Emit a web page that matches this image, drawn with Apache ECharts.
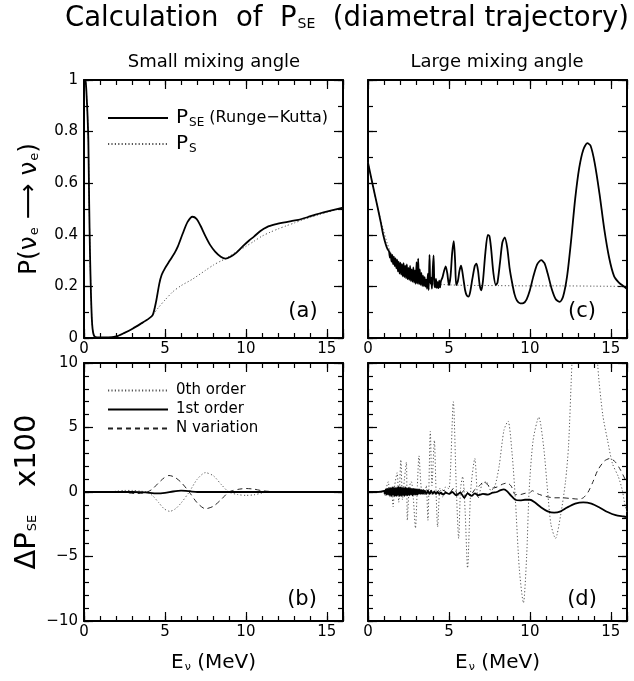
<!DOCTYPE html>
<html>
<head>
<meta charset="utf-8">
<script src="https://cdn.jsdelivr.net/npm/echarts@6/dist/echarts.min.js"></script>
<style>
  html, body { margin: 0; padding: 0; background: #fff; }
  #wrap { position: relative; width: 634px; height: 681px; }
  #frame, #chart { position: absolute; left: 0; top: 0; width: 634px; height: 681px; }
</style>
</head>
<body>
<div id="wrap">
  <div id="frame"></div>
  <div id="chart"></div>
</div>
<script>
// Energy axis shared by all four panels (MeV)
const X_MIN = 0, X_MAX = 16;
const xTickLabels = [0, 5, 10, 15];

// (a) small mixing angle: survival probability [E, P]
const pseSmall = [
  [0,1.0],[0.1,0.995],[0.16,0.94],[0.22,0.86],[0.27,0.76],[0.32,0.52],[0.37,0.33],[0.43,0.17],
  [0.48,0.08],[0.53,0.035],[0.6,0.012],[0.7,0.004],[1.0,0.002],[1.5,0.002],[2.0,0.006],[2.5,0.02],
  [3.0,0.036],[3.5,0.055],[4.0,0.075],[4.25,0.09],[4.45,0.14],[4.65,0.21],[4.8,0.245],[5.0,0.27],
  [5.3,0.3],[5.6,0.33],[5.8,0.355],[6.1,0.405],[6.4,0.45],[6.7,0.47],[6.95,0.462],[7.2,0.435],
  [7.5,0.395],[7.8,0.36],[8.1,0.335],[8.45,0.315],[8.75,0.308],[9.05,0.315],[9.4,0.33],[9.8,0.355],
  [10.2,0.378],[10.5,0.393],[10.9,0.415],[11.3,0.43],[11.8,0.44],[12.3,0.447],[12.8,0.453],
  [13.25,0.458],[13.8,0.468],[14.3,0.478],[14.8,0.487],[15.3,0.495],[16,0.505]
];
const psSmall = [
  [0,1.0],[0.1,0.995],[0.16,0.94],[0.22,0.86],[0.27,0.76],[0.32,0.52],[0.37,0.33],[0.43,0.17],
  [0.48,0.08],[0.53,0.035],[0.6,0.012],[0.7,0.004],[1.0,0.002],[1.5,0.002],[2.0,0.006],[2.5,0.02],
  [3.0,0.036],[3.5,0.055],[4.0,0.075],[4.25,0.09],[4.6,0.118],[5.0,0.147],[5.5,0.18],[6.0,0.203],
  [6.7,0.228],[7.5,0.262],[8.0,0.283],[8.5,0.3],[8.75,0.307],[9.0,0.318],[9.5,0.337],[10.0,0.355],
  [10.5,0.375],[11.0,0.395],[11.5,0.41],[12.0,0.423],[12.5,0.435],[13.0,0.446],[13.5,0.458],
  [14.0,0.468],[14.5,0.478],[15.0,0.487],[15.5,0.496],[16,0.503]
];

// (c) large mixing angle: survival probability [E, P]
const pseLarge = [
  [0,0.68],[0.2,0.62],[0.4,0.562],[0.6,0.505],[0.8,0.445],[0.94,0.40],[1.1,0.362],[1.2,0.345],
  [1.30,0.335],[1.35,0.312],[1.40,0.328],[1.45,0.296],[1.50,0.322],[1.55,0.286],[1.60,0.315],
  [1.65,0.279],[1.70,0.309],[1.75,0.270],[1.80,0.304],[1.85,0.258],[1.90,0.296],[1.95,0.250],
  [2.00,0.292],[2.05,0.246],[2.10,0.286],[2.15,0.239],[2.20,0.290],[2.25,0.236],[2.30,0.280],
  [2.35,0.232],[2.40,0.285],[2.45,0.228],[2.50,0.272],[2.55,0.225],[2.60,0.279],[2.65,0.221],
  [2.70,0.266],[2.75,0.218],[2.80,0.274],[2.85,0.215],[2.90,0.262],[2.95,0.210],[3.00,0.294],
  [3.05,0.211],[3.10,0.308],[3.15,0.208],[3.20,0.266],[3.25,0.206],[3.30,0.252],[3.35,0.202],
  [3.40,0.242],[3.45,0.201],[3.50,0.236],[3.55,0.199],[3.60,0.226],[3.65,0.191],[3.70,0.249],
  [3.75,0.186],[3.80,0.322],[3.85,0.211],[3.90,0.234],[3.95,0.191],[4.00,0.264],[4.05,0.320],
  [4.10,0.211],[4.15,0.196],[4.20,0.229],[4.25,0.194],[4.30,0.216],[4.35,0.193],[4.40,0.222],
  [4.45,0.196],[4.50,0.219],
  [4.6,0.235],[4.7,0.26],[4.8,0.278],[4.9,0.25],[5.0,0.205],[5.1,0.24],[5.2,0.33],[5.3,0.375],
  [5.38,0.3],[5.45,0.205],[5.55,0.22],[5.65,0.26],[5.75,0.28],[5.88,0.235],[6.0,0.185],[6.1,0.165],
  [6.2,0.16],[6.3,0.175],[6.45,0.23],[6.6,0.28],[6.7,0.288],[6.8,0.26],[6.9,0.205],[7.0,0.185],
  [7.1,0.22],[7.25,0.33],[7.4,0.4],[7.5,0.395],[7.6,0.35],[7.75,0.25],[7.9,0.205],[8.0,0.215],
  [8.15,0.29],[8.3,0.37],[8.45,0.39],[8.6,0.35],[8.75,0.27],[8.9,0.215],[9.05,0.17],[9.2,0.145],
  [9.4,0.134],[9.6,0.135],[9.8,0.15],[10.0,0.185],[10.2,0.235],[10.45,0.285],[10.7,0.302],
  [10.9,0.29],[11.1,0.25],[11.35,0.19],[11.6,0.15],[11.85,0.14],[12.05,0.16],[12.3,0.24],
  [12.55,0.38],[12.8,0.54],[13.05,0.66],[13.3,0.73],[13.55,0.755],[13.75,0.745],[14.0,0.68],
  [14.3,0.56],[14.6,0.42],[14.9,0.31],[15.2,0.24],[15.5,0.215],[15.8,0.2],[16,0.19]
];
const psLarge = [
  [0,0.68],[0.3,0.59],[0.6,0.505],[0.9,0.43],[1.2,0.365],[1.5,0.315],[1.8,0.28],[2.1,0.258],
  [2.5,0.238],[3.0,0.224],[3.5,0.215],[4.0,0.21],[5,0.206],[6,0.204],[8,0.203],[10,0.202],
  [12,0.202],[14,0.201],[16,0.2]
];

// (b) small mixing angle: Delta P_SE x 100 [E, value]
const zerothSmall = [
  [0,0],[1,0],[1.5,0.02],[2,0.06],[2.5,0.12],[3,0.12],[3.5,0.06],[3.9,0],[4.25,-0.3],[4.6,-0.8],
  [4.95,-1.3],[5.3,-1.5],[5.65,-1.3],[6.0,-0.85],[6.5,0],[7.0,1.0],[7.5,1.5],[8.0,1.25],[8.5,0.55],
  [8.95,0],[9.5,-0.2],[10,-0.26],[10.5,-0.22],[11,-0.08],[11.5,0.03],[11.8,0]
];
const firstSmall = [
  [0,0],[3,0],[3.8,-0.03],[4.5,-0.1],[5.0,-0.06],[5.5,0.04],[6.0,0.1],[6.5,0.06],[7.0,0],[8,0],[16,0]
];
const nvarSmall = [
  [0,0],[2,0],[2.6,-0.05],[3.2,-0.12],[3.8,-0.05],[4.2,0.2],[4.6,0.7],[4.95,1.1],[5.25,1.28],
  [5.6,1.15],[6.0,0.75],[6.5,0],[7.0,-0.85],[7.5,-1.3],[8.0,-1.1],[8.5,-0.55],[8.95,0],[9.5,0.2],
  [10,0.27],[10.5,0.22],[11,0.1],[11.5,0.04],[11.8,0]
];

// (d) large mixing angle: Delta P_SE x 100 [E, value]
const zerothLarge = [
  [0,0],[0.5,0],[0.9,0.1],[1.05,-0.3],[1.15,0.4],[1.25,0.8],[1.35,-0.4],[1.45,0.3],[1.55,-1.15],
  [1.65,0.5],[1.8,1.5],[1.9,-0.8],[2.03,2.5],[2.13,-0.6],[2.25,1.0],[2.37,2.3],[2.43,-2.2],[2.55,0.4],
  [2.68,0.8],[2.8,-0.5],[2.93,-2.8],[3.05,0.5],[3.15,2.8],[3.3,0.2],[3.5,-0.25],[3.6,0.5],[3.7,-2.2],
  [3.85,4.7],[3.95,0.5],[4.1,4.0],[4.2,0.2],[4.3,-2.7],[4.45,0.3],[4.6,-0.4],[4.8,0.4],[5.0,0.25],
  [5.27,7.0],[5.45,0.5],[5.6,-3.6],[5.72,0.3],[5.85,1.2],[6.0,-1.5],[6.15,-5.9],[6.35,0.2],[6.6,2.6],
  [6.8,-0.5],[7.05,0.6],[7.3,0.8],[7.6,0.1],[7.85,0.5],[8.1,2.0],[8.4,4.8],[8.65,5.5],[8.9,3.0],
  [9.1,-0.5],[9.35,-6.0],[9.6,-8.6],[9.8,-5.0],[9.95,0],[10.2,4.0],[10.55,5.8],[10.85,3.5],[11.1,0],
  [11.3,-2.5],[11.58,-3.6],[11.9,-1.8],[12.2,0.8],[12.39,3.6],[12.6,10],[13.0,20],[13.4,24],
  [13.8,20],[14.2,9.7],[14.5,6.0],[14.8,4.0],[15.1,2.2],[15.46,1.2],[15.7,0.2],[15.85,-0.85],[16,-1.6]
];
const firstLarge = [
  [0,0],[0.5,0],[0.9,0.05],[1.0,0.1],[1.05,-0.15],[1.1,0.2],[1.15,-0.2],[1.2,0.25],[1.25,-0.2],
  [1.3,0.3],[1.35,-0.25],[1.4,0.3],[1.45,-0.3],[1.5,0.35],[1.55,-0.25],[1.6,0.35],[1.65,-0.3],
  [1.7,0.3],[1.75,-0.3],[1.8,0.35],[1.85,-0.25],[1.9,0.4],[1.95,-0.3],[2.0,0.35],[2.05,-0.3],
  [2.1,0.35],[2.15,-0.25],[2.2,0.3],[2.25,-0.3],[2.3,0.35],[2.35,-0.25],[2.4,0.3],[2.45,-0.25],
  [2.5,0.3],[2.55,-0.25],[2.6,0.3],[2.65,-0.2],[2.7,0.25],[2.75,-0.25],[2.8,0.25],[2.85,-0.2],
  [2.9,0.25],[2.95,-0.2],[3.0,0.2],[3.05,-0.2],[3.1,0.2],[3.15,-0.15],[3.2,0.2],[3.25,-0.15],
  [3.3,0.15],[3.35,-0.15],[3.4,0.15],[3.45,-0.15],[3.5,0.1],[3.6,-0.15],[3.7,0.1],[3.8,-0.15],
  [3.9,0.1],[4.0,-0.15],[4.1,0.05],[4.2,-0.15],[4.3,0.0],[4.4,-0.15],[4.5,-0.05],[4.65,-0.2],
  [4.8,-0.05],[5.0,-0.15],[5.2,0.0],[5.45,-0.25],[5.7,-0.05],[5.95,-0.45],[6.15,-0.1],[6.4,-0.3],
  [6.6,-0.1],[6.8,-0.25],[7.1,-0.15],[7.4,-0.2],[7.7,-0.05],[7.95,0.0],[8.2,0.15],[8.4,0.2],
  [8.6,0.05],[8.85,-0.3],[9.1,-0.6],[9.4,-0.65],[9.7,-0.6],[10.0,-0.6],[10.3,-0.8],[10.7,-1.2],
  [11.1,-1.5],[11.5,-1.6],[11.9,-1.5],[12.3,-1.2],[12.8,-0.9],[13.3,-0.8],[13.8,-0.9],[14.3,-1.2],
  [14.8,-1.55],[15.3,-1.8],[15.8,-1.9],[16,-1.95]
];
const nvarLarge = [
  [0,0],[1,0],[1.5,0.1],[2,-0.1],[2.5,0.15],[3,-0.15],[3.5,0.2],[4,-0.2],[4.5,0.2],[5.0,-0.1],
  [5.3,0.3],[5.6,-0.3],[6.0,0.2],[6.3,-0.3],[6.6,0.2],[6.9,0.5],[7.15,0.8],[7.4,0.55],[7.7,0.3],
  [8.0,0.4],[8.3,0.6],[8.6,0.7],[8.85,0.45],[9.1,-0.2],[9.4,-0.2],[9.7,-0.1],[10.0,-0.05],
  [10.15,0.1],[10.5,-0.15],[11.0,-0.35],[11.5,-0.45],[12.0,-0.45],[12.5,-0.5],[13.0,-0.55],
  [13.3,-0.45],[13.6,0.0],[13.9,0.8],[14.2,1.7],[14.6,2.4],[14.95,2.6],[15.3,2.3],[15.6,1.7],
  [15.9,0.95],[16,0.7]
];

const FONT = 'DejaVu Sans';
const SUB_PAD = (p) => [p, 0, 0, 1];

const SOLID = { color: '#000', width: 1.8, type: 'solid' };
const DOTTED = { color: '#555', width: 1, type: [1.2, 2.2] };
const DASHED = { color: '#222', width: 1, type: [5, 4] };

// panel rectangles: (a), (c), (b), (d)
const gridRects = [
  { left: 84, top: 80, width: 259, height: 258 },
  { left: 368, top: 80, width: 259, height: 258 },
  { left: 84, top: 363, width: 259, height: 258 },
  { left: 368, top: 363, width: 259, height: 258 }
];
// value range, labelled tick step and small tick step of each panel's y axis
const yRanges = [
  { min: 0, max: 1, major: 0.2, minor: 0.1 },
  { min: 0, max: 1, major: 0.2, minor: 0.1 },
  { min: -10, max: 10, major: 5, minor: 1 },
  { min: -10, max: 10, major: 5, minor: 1 }
];
const grids = () => gridRects.map((r) => Object.assign({}, r));

/* ---------- layer 1: panel frames, ticks and tick labels ---------- */
const tk = (len) => ({ show: true, inside: true, length: len, lineStyle: { color: '#000', width: 1.2 } });
const ln = (show) => ({ show, onZero: false, lineStyle: { color: '#000', width: 2 } });

// long ticks on the labelled steps, short ticks from a second axis on the same edge
function X(g, pos, interval, line, extra) {
  return Object.assign({
    type: 'value', gridIndex: g, min: X_MIN, max: X_MAX, interval, position: pos,
    axisLine: ln(line), axisTick: tk(interval === 5 ? 9 : 5), splitLine: { show: false },
    axisLabel: { show: false }
  }, extra || {});
}
function Y(g, pos, isMajor, extra) {
  const r = yRanges[g];
  return Object.assign({
    type: 'value', gridIndex: g, min: r.min, max: r.max,
    interval: isMajor ? r.major : r.minor, position: pos,
    axisLine: ln(isMajor), axisTick: tk(isMajor ? 9 : 5), splitLine: { show: false },
    axisLabel: { show: false }
  }, extra || {});
}
const xLabels = {
  axisLabel: {
    show: true, color: '#000', fontFamily: FONT, fontSize: 15, margin: 4,
    formatter: (v) => (xTickLabels.indexOf(v) >= 0 ? String(v) : '')
  }
};
const yLabels = {
  axisLabel: {
    show: true, color: '#000', fontFamily: FONT, fontSize: 15, margin: 6,
    formatter: (v) => String(v).replace('-', '\u2212')
  }
};
const frameX = [];
const frameY = [];
[0, 1, 2, 3].forEach((g) => {
  frameX.push(X(g, 'bottom', 5, true, xLabels), X(g, 'bottom', 1, false),
              X(g, 'top', 5, true), X(g, 'top', 1, false));
  const labelled = g === 0 || g === 2;
  frameY.push(Y(g, 'left', true, labelled ? yLabels : null), Y(g, 'left', false),
              Y(g, 'right', true), Y(g, 'right', false));
});

const frameChart = echarts.init(document.getElementById('frame'));
frameChart.setOption({ animation: false, grid: grids(), xAxis: frameX, yAxis: frameY });

/* ---------- layer 2: curves, axis titles, legends and captions ---------- */
const noAxisParts = {
  axisLine: { show: false, onZero: false }, axisTick: { show: false },
  axisLabel: { show: false }, splitLine: { show: false }
};
const eName = {
  name: '{m|E}{s|\u03bd}{m| (MeV)}', nameLocation: 'middle', nameGap: 31,
  nameTextStyle: {
    color: '#000',
    rich: {
      m: { fontSize: 20, fontFamily: FONT, color: '#000' },
      s: { fontSize: 11, fontFamily: FONT, color: '#000', padding: SUB_PAD(10) }
    }
  }
};
const yName = (name, size) => ({
  name, nameLocation: 'middle', nameRotate: 90, nameGap: 42,
  nameTextStyle: {
    color: '#000',
    rich: {
      m: { fontSize: size, fontFamily: FONT, color: '#000' },
      s: { fontSize: 13, fontFamily: FONT, color: '#000', padding: SUB_PAD(11) }
    }
  }
});
const plotX = [0, 1, 2, 3].map((g) => Object.assign(
  { type: 'value', gridIndex: g, min: X_MIN, max: X_MAX, position: 'bottom' },
  noAxisParts, g >= 2 ? eName : {}
));
const plotY = [0, 1, 2, 3].map((g) => Object.assign(
  { type: 'value', gridIndex: g, min: yRanges[g].min, max: yRanges[g].max, position: 'left' },
  noAxisParts,
  g === 0 ? yName('{m|P(\u03bd}{s|e}{m| \u27f6 \u03bd}{s|e}{m|)}', 25) : {},
  g === 2 ? yName('{m|\u0394P}{s|SE}{m|   x100}', 29) : {}
));

function line(name, data, grid, style) {
  return {
    type: 'line', name, data, xAxisIndex: grid, yAxisIndex: grid,
    symbol: 'none', smooth: 0.25, lineStyle: style, itemStyle: { color: style.color }
  };
}
const series = [
  line('P_S', psSmall, 0, DOTTED),
  line('P_SE (Runge-Kutta)', pseSmall, 0, SOLID),
  line('P_S large', psLarge, 1, DOTTED),
  line('P_SE large', pseLarge, 1, SOLID),
  line('0th order', zerothSmall, 2, DOTTED),
  line('N variation', nvarSmall, 2, DASHED),
  line('1st order', firstSmall, 2, SOLID),
  line('0th order large', zerothLarge, 3, DOTTED),
  line('N variation large', nvarLarge, 3, DASHED),
  line('1st order large', firstLarge, 3, SOLID)
];

const legendRich = {
  p: { fontSize: 20, fontFamily: FONT, color: '#000' },
  s: { fontSize: 12, fontFamily: FONT, color: '#000', padding: SUB_PAD(10) },
  r: { fontSize: 16, fontFamily: FONT, color: '#000' },
  t: { fontSize: 15, fontFamily: FONT, color: '#000' }
};
const legendLabels = {
  'P_SE (Runge-Kutta)': '{p|P}{s|SE}{r| (Runge\u2212Kutta)}',
  'P_S': '{p|P}{s|S}',
  '0th order': '{t|0th order}',
  '1st order': '{t|1st order}',
  'N variation': '{t|N variation}'
};
function legendFor(names, top, itemHeight, itemGap) {
  return {
    data: names, orient: 'vertical', left: 102, top, itemWidth: 60, itemHeight, itemGap,
    selectedMode: false, formatter: (n) => legendLabels[n],
    itemStyle: { opacity: 0 },
    textStyle: { color: '#000', rich: legendRich, padding: [0, 0, 0, 3] }
  };
}

const panelText = (text, x, y, size) => ({
  type: 'text', x, y, silent: true,
  style: { text, fill: '#000', font: size + 'px "DejaVu Sans"', align: 'center', verticalAlign: 'middle' }
});

const plotChart = echarts.init(document.getElementById('chart'));
plotChart.setOption({
  animation: false,
  backgroundColor: 'transparent',
  grid: grids(),
  xAxis: plotX, yAxis: plotY, series,
  legend: [
    legendFor(['P_SE (Runge-Kutta)', 'P_S'], 103, 12, 5),
    legendFor(['0th order', '1st order', 'N variation'], 378, 10, 4)
  ],
  graphic: [
    {
      type: 'text', x: 347, y: 19, silent: true,
      style: {
        text: '{t|Calculation  of  P}{s|SE}{t|  (diametral trajectory)}',
        align: 'center', verticalAlign: 'middle',
        rich: {
          t: { fontSize: 27.5, fontFamily: FONT, fill: '#000' },
          s: { fontSize: 14, fontFamily: FONT, fill: '#000', padding: SUB_PAD(11) }
        }
      }
    },
    panelText('Small mixing angle', 214, 62, 18),
    panelText('Large mixing angle', 497, 62, 18),
    panelText('(a)', 303, 312, 21),
    panelText('(c)', 582, 312, 21),
    panelText('(b)', 302, 600, 21),
    panelText('(d)', 582, 600, 21)
  ]
});
</script>
</body>
</html>
